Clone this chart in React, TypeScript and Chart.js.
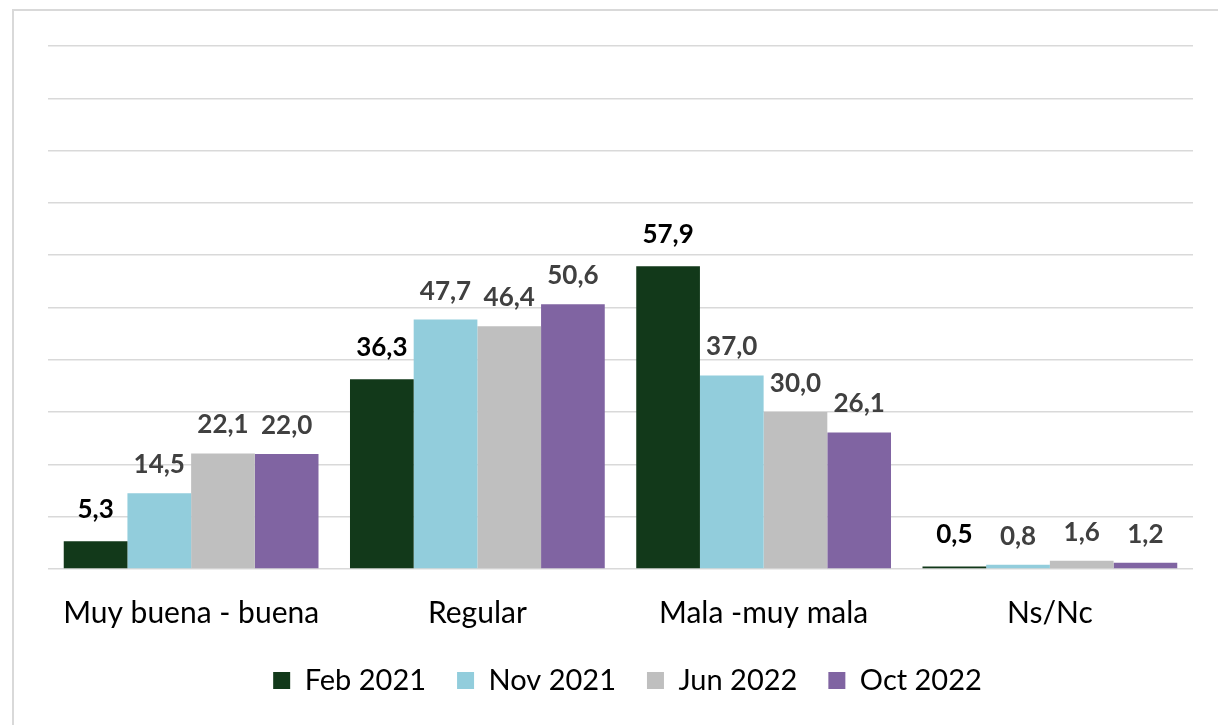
import React, { useEffect, useRef } from "react";
import { Chart, registerables } from "chart.js";

Chart.register(...registerables);

const categories = ["Muy buena - buena", "Regular", "Mala -muy mala", "Ns/Nc"];
const seriesNames = ["Feb 2021", "Nov 2021", "Jun 2022", "Oct 2022"];
const feb2021 = [5.3, 36.3, 57.9, 0.5];
const nov2021 = [14.5, 47.7, 37.0, 0.8];
const jun2022 = [22.1, 46.4, 30.0, 1.6];
const oct2022 = [22.0, 50.6, 26.1, 1.2];
const seriesColors = ["#12391A", "#92CDDC", "#BFBFBF", "#8064A2"];
const labelColors = ["#000000", "#404040", "#404040", "#404040"];
const yTicks = [0, 10, 20, 30, 40, 50, 60, 70, 80, 90, 100];

const FONT = "Lato, 'Open Sans', sans-serif";

const fmt = (v: number) => v.toFixed(1).replace(".", ",");

const dataLabelPlugin = {
  id: "dataLabels",
  afterLayout(chart: any) {
    const lg = chart.legend;
    if (lg) {
      lg.left += 7;
      lg.right += 7;
    }
  },
  afterDatasetsDraw(chart: any) {
    const ctx = chart.ctx;
    ctx.save();
    ctx.font = `bold 26px ${FONT}`;
    ctx.textAlign = "center";
    ctx.textBaseline = "alphabetic";
    chart.data.datasets.forEach((ds: any, i: number) => {
      const meta = chart.getDatasetMeta(i);
      meta.data.forEach((bar: any, j: number) => {
        const v = ds.data[j] as number;
        ctx.fillStyle = labelColors[i];
        ctx.fillText(fmt(v), bar.x, bar.y - (i === 0 ? 23 : 20));
      });
    });
    ctx.restore();
  },
};

export default function App() {
  const canvasRef = useRef<HTMLCanvasElement | null>(null);

  useEffect(() => {
    if (!canvasRef.current) return;
    const series = [feb2021, nov2021, jun2022, oct2022];
    const chart = new Chart(canvasRef.current, {
      type: "bar",
      data: {
        labels: categories,
        datasets: series.map((d, i) => ({
          label: seriesNames[i],
          data: d,
          backgroundColor: seriesColors[i],
          borderWidth: 0,
          barPercentage: 1.0,
          categoryPercentage: 0.89,
        })),
      },
      options: {
        responsive: false,
        animation: false,
        layout: { padding: { left: 48, right: 25, top: 46, bottom: 20 } },
        plugins: {
          tooltip: { enabled: false },
          legend: {
            position: "bottom",
            labels: {
              boxWidth: 17,
              boxHeight: 17,
              padding: 31,
              color: "#000000",
              font: { family: FONT, size: 29 },
            },
          },
        },
        scales: {
          x: {
            grid: { display: false, drawTicks: false },
            border: { display: false },
            ticks: {
              color: "#000000",
              font: { family: FONT, size: 30 },
              padding: 26,
            },
            afterFit: (scale: any) => {
              scale.height -= 22;
            },
          },
          y: {
            min: 0,
            max: 100,
            afterBuildTicks: (axis: any) => {
              axis.ticks = yTicks.map((v) => ({ value: v }));
            },
            grid: { color: "#D9D9D9", lineWidth: 1.5, drawTicks: false },
            border: { display: false },
            ticks: { display: false },
          },
        },
      },
      plugins: [dataLabelPlugin],
    });
    return () => chart.destroy();
  }, []);

  return (
    <div style={{ position: "absolute", left: 0, top: 0, width: 1218, height: 725, background: "#fff" }}>
      <div
        style={{
          position: "absolute",
          left: 12,
          top: 9,
          width: 1206,
          height: 716,
          borderTop: "2px solid #D9D9D9",
          borderLeft: "2px solid #D9D9D9",
          boxSizing: "border-box",
        }}
      />
      <canvas ref={canvasRef} width={1218} height={725} style={{ position: "absolute", left: 0, top: 0 }} />
    </div>
  );
}
